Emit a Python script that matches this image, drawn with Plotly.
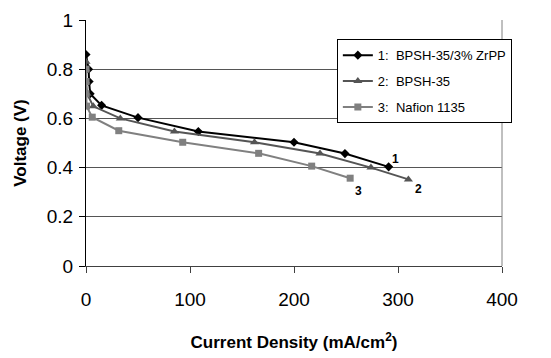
import plotly.graph_objects as go

# Series data (current density mA/cm2, voltage V)
s1_name = "1:  BPSH-35/3% ZrPP"
s1_x = [0, 2.5, 3, 4, 15, 50, 108, 200, 249, 291]
s1_y = [0.86, 0.80, 0.75, 0.70, 0.653, 0.603, 0.547, 0.503, 0.457, 0.403]

s2_name = "2:  BPSH-35"
s2_x = [0, 0, 0, 1, 7, 33, 85, 162, 225, 274, 310]
s2_y = [0.83, 0.80, 0.75, 0.70, 0.649, 0.600, 0.547, 0.503, 0.457, 0.400, 0.352]

s3_name = "3:  Nafion 1135"
s3_x = [0, 0, 0, 0.5, 6, 31.5, 93, 166, 217, 254]
s3_y = [0.80, 0.75, 0.70, 0.65, 0.605, 0.55, 0.503, 0.458, 0.406, 0.357]

end_labels = ["1", "2", "3"]

x_ticks = [0, 100, 200, 300, 400]
y_ticks = [0, 0.2, 0.4, 0.6, 0.8, 1]
y_tick_text = ["0", "0.2", "0.4", "0.6", "0.8", "1"]

FONT = "Liberation Sans, Arial, sans-serif"

fig = go.Figure()
series = [
    (s1_name, s1_x, s1_y, "#000000", "diamond", 7),
    (s2_name, s2_x, s2_y, "#555555", "triangle-up", 8),
    (s3_name, s3_x, s3_y, "#808080", "square", 7),
]
for i, (name, xs, ys, col, sym, ms) in enumerate(series):
    fig.add_trace(go.Scatter(
        x=xs, y=ys, name=name, mode="lines+markers",
        line=dict(color=col, width=2),
        marker=dict(symbol=sym, size=ms, color=col),
        legendgroup=f"g{i}",
    ))

# end labels
offsets = [(7, 8), (10, -10), (8, -13)]
for (name, xs, ys, col, sym, ms), lab, (dx, dy) in zip(series, end_labels, offsets):
    fig.add_annotation(x=xs[-1], y=ys[-1], text=f"<b>{lab}</b>", showarrow=False,
                       xshift=dx, yshift=dy, font=dict(family=FONT, size=12, color="#000"))

fig.update_layout(
    width=551, height=358,
    margin=dict(l=78, r=57, t=12, b=100, autoexpand=False),
    paper_bgcolor="white", plot_bgcolor="white",
    font=dict(family=FONT, color="#000"),
    showlegend=True,
    legend=dict(
        x=0.603, y=0.922, xanchor="left", yanchor="top",
        bgcolor="white", bordercolor="#000", borderwidth=1,
        font=dict(family=FONT, size=13, color="#000"),
        tracegroupgap=6, itemwidth=30,
    ),
    xaxis=dict(
        range=[0, 400], tickvals=x_ticks, ticks="outside", ticklen=6,
        tickcolor="#404040", showgrid=False, zeroline=False, automargin=False,
        showline=True, linecolor="#404040", linewidth=1, mirror=False,
        tickfont=dict(size=19, family=FONT), ticklabelstandoff=10,
        title=dict(text="<b>Current Density (mA/cm<sup>2</sup>)</b>",
                   font=dict(size=17, family=FONT), standoff=27),
    ),
    yaxis=dict(
        range=[0, 1], tickvals=y_ticks, ticktext=y_tick_text, ticks="outside", ticklen=6,
        tickcolor="#000", showgrid=True, gridcolor="#555555", gridwidth=1,
        zeroline=False, showline=True, linecolor="#000", linewidth=1, automargin=False,
        tickfont=dict(size=19, family=FONT), ticklabelstandoff=2,
        title=dict(text="<b>Voltage (V)</b>", font=dict(size=17, family=FONT), standoff=15),
    ),
)
# right border of plot area
fig.add_shape(type="line", xref="paper", yref="paper", x0=1, x1=1, y0=0, y1=1,
              line=dict(color="#808080", width=1))

fig.write_html("out.html")
